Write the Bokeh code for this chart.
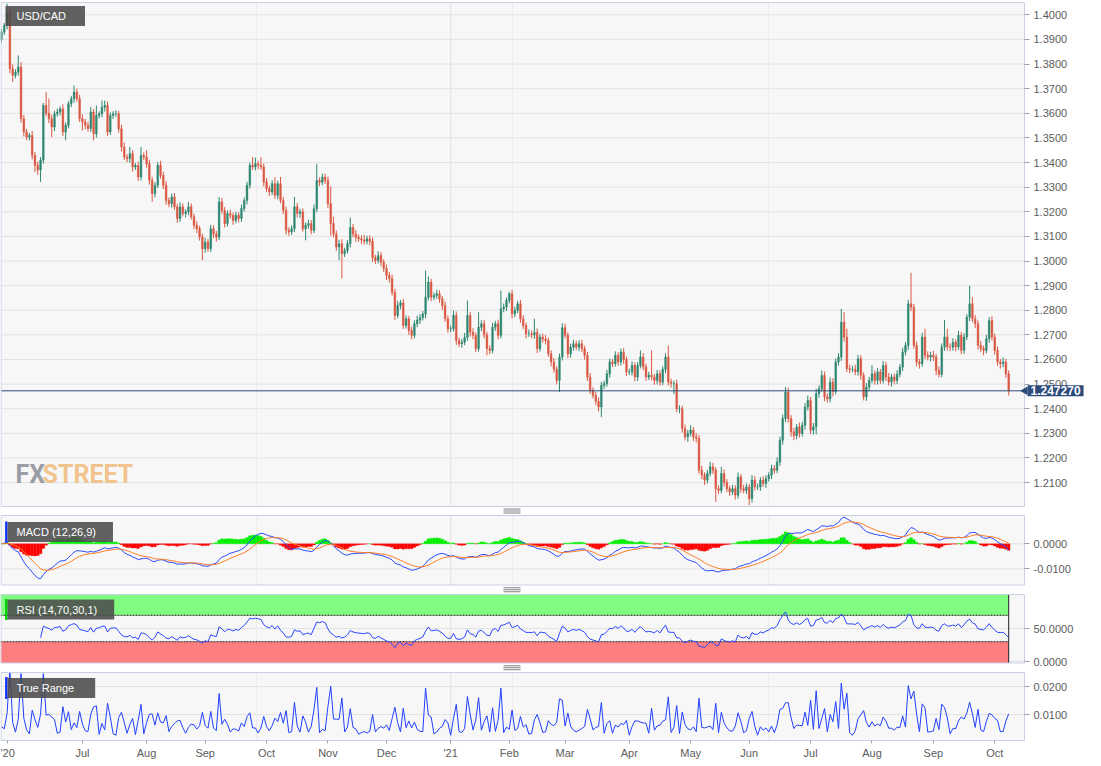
import numpy as np
import pandas as pd
from bokeh.plotting import figure
from bokeh.models import Range1d, FixedTicker, PrintfTickFormatter, Label, LinearAxis, ColumnDataSource
from bokeh.embed import file_html
from bokeh.resources import INLINE

# ---------------- data ----------------
symbol = "USD/CAD"
start_date = "2020-05-21"          # first daily candle (business days)
first_open_pips = 13900            # price * 10000

closes_pips = [
    13930, 13957, 14010, 13781, 13754, 13767, 13788, 13578, 13524, 13503, 13510, 13429, 13388, 13370, 13410, 13632, 13600, 13578, 13544, 13598,
    13605, 13618, 13524, 13551, 13639, 13659, 13686, 13659, 13578, 13565, 13551, 13538, 13605, 13517, 13591, 13598, 13625, 13632, 13524, 13591,
    13598, 13598, 13537, 13463, 13422, 13415, 13436, 13382, 13388, 13341, 13429, 13422, 13395, 13328, 13274, 13308, 13389, 13348, 13308, 13246,
    13233, 13260, 13220, 13173, 13220, 13193, 13200, 13220, 13180, 13145, 13131, 13097, 13050, 13077, 13050, 13131, 13110, 13097, 13240, 13205,
    13152, 13193, 13186, 13165, 13186, 13173, 13213, 13246, 13308, 13389, 13382, 13395, 13389, 13382, 13321, 13294, 13280, 13314, 13267, 13314,
    13246, 13205, 13125, 13118, 13131, 13220, 13193, 13200, 13131, 13145, 13152, 13125, 13212, 13327, 13320, 13341, 13327, 13233, 13152, 13110,
    13057, 13070, 13030, 13042, 13071, 13136, 13110, 13096, 13090, 13085, 13080, 13090, 13080, 13014, 13002, 13022, 12995, 12970, 12941, 12928,
    12873, 12779, 12820, 12830, 12738, 12765, 12718, 12698, 12745, 12760, 12770, 12785, 12853, 12914, 12853, 12860, 12867, 12846, 12819, 12765,
    12725, 12725, 12779, 12677, 12664, 12670, 12690, 12779, 12711, 12698, 12644, 12731, 12745, 12700, 12644, 12637, 12731, 12745, 12698, 12806,
    12813, 12840, 12867, 12785, 12800, 12826, 12765, 12738, 12704, 12704, 12700, 12710, 12644, 12691, 12683, 12677, 12623, 12590, 12560, 12515,
    12610, 12729, 12698, 12623, 12650, 12664, 12650, 12664, 12644, 12617, 12529, 12475, 12454, 12430, 12407, 12495, 12502, 12542, 12590, 12583,
    12617, 12590, 12630, 12600, 12549, 12549, 12576, 12529, 12576, 12610, 12570, 12529, 12536, 12529, 12515, 12542, 12508, 12560, 12610, 12508,
    12502, 12502, 12400, 12400, 12319, 12285, 12300, 12313, 12285, 12280, 12150, 12130, 12110, 12137, 12164, 12150, 12075, 12068, 12137, 12100,
    12075, 12062, 12075, 12049, 12123, 12075, 12068, 12082, 12035, 12110, 12082, 12082, 12110, 12096, 12116, 12130, 12157, 12150, 12184, 12272,
    12360, 12468, 12360, 12306, 12290, 12326, 12299, 12333, 12407, 12434, 12313, 12326, 12461, 12481, 12535, 12448, 12440, 12508, 12470, 12590,
    12610, 12752, 12691, 12563, 12560, 12560, 12550, 12603, 12536, 12448, 12488, 12515, 12542, 12515, 12549, 12515, 12576, 12529, 12508, 12529,
    12515, 12540, 12569, 12630, 12657, 12826, 12812, 12657, 12590, 12583, 12691, 12617, 12610, 12617, 12610, 12556, 12540, 12651, 12691, 12651,
    12650, 12670, 12651, 12698, 12637, 12691, 12772, 12826, 12765, 12745, 12657, 12644, 12637, 12684, 12758, 12691, 12637, 12590, 12583, 12590,
    12542, 12472.7,
]

upper_wick_pips = [
    12, 10, 35, 15, 18, 12, 47, 20, 15, 12, 10, 18, 14, 16, 12, 10, 54, 60, 16, 12,
    14, 10, 18, 12, 10, 12, 27, 14, 16, 18, 12, 14, 20, 12, 41, 10, 27, 20, 16, 12,
    10, 14, 12, 16, 18, 12, 27, 14, 10, 16, 34, 12, 28, 16, 14, 12, 13, 18, 14, 16,
    12, 14, 16, 12, 18, 14, 10, 20, 14, 12, 16, 12, 14, 18, 12, 16, 14, 12, 20, 16,
    14, 12, 16, 10, 14, 12, 16, 12, 14, 11, 33, 25, 12, 33, 14, 16, 12, 14, 26, 12,
    27, 14, 16, 12, 14, 40, 16, 12, 14, 12, 16, 14, 18, 68, 12, 14, 14, 16, 70, 28,
    14, 16, 18, 12, 14, 40, 14, 16, 12, 14, 20, 12, 14, 16, 12, 18, 14, 12, 16, 14,
    16, 14, 18, 12, 16, 14, 12, 16, 14, 18, 14, 12, 108, 23, 14, 12, 16, 14, 12, 16,
    14, 12, 20, 16, 12, 14, 18, 61, 14, 16, 12, 61, 14, 16, 12, 14, 18, 12, 16, 74,
    14, 12, 8, 16, 14, 12, 16, 14, 12, 18, 14, 55, 16, 12, 14, 16, 12, 14, 16, 12,
    14, 18, 16, 12, 14, 16, 12, 14, 16, 12, 14, 16, 12, 14, 16, 14, 12, 16, 14, 12,
    16, 12, 14, 16, 12, 14, 16, 12, 14, 27, 16, 12, 14, 101, 12, 16, 14, 12, 15, 47,
    14, 12, 16, 14, 12, 16, 14, 20, 12, 16, 14, 18, 12, 14, 20, 16, 12, 14, 27, 16,
    14, 12, 16, 14, 18, 12, 16, 14, 12, 20, 16, 14, 12, 16, 14, 12, 16, 14, 18, 14,
    16, 20, 18, 14, 16, 12, 18, 14, 16, 20, 14, 16, 20, 14, 20, 16, 14, 18, 16, 14,
    16, 54, 40, 34, 16, 14, 18, 16, 14, 12, 16, 14, 35, 14, 16, 12, 18, 14, 16, 12,
    14, 16, 12, 18, 14, 16, 126, 14, 16, 12, 18, 34, 16, 14, 18, 12, 16, 14, 69, 34,
    14, 16, 12, 18, 14, 16, 12, 74, 27, 16, 14, 18, 12, 16, 14, 18, 14, 16, 12, 18,
    13, 14,
]

lower_wick_pips = [
    14, 12, 16, 18, 27, 12, 14, 16, 18, 12, 14, 16, 27, 20, 49, 14, 12, 18, 41, 16,
    12, 14, 16, 34, 12, 14, 16, 12, 14, 35, 16, 12, 14, 27, 16, 12, 14, 18, 16, 12,
    14, 12, 16, 18, 12, 14, 16, 18, 12, 16, 14, 12, 16, 18, 34, 16, 12, 14, 16, 18,
    14, 16, 12, 18, 14, 12, 16, 14, 12, 16, 18, 14, 47, 16, 12, 14, 16, 18, 12, 14,
    16, 12, 14, 18, 12, 16, 14, 12, 16, 14, 12, 14, 16, 12, 18, 14, 16, 12, 14, 16,
    12, 14, 18, 16, 12, 14, 16, 18, 12, 47, 14, 16, 12, 14, 16, 12, 14, 18, 50, 14,
    16, 54, 101, 14, 12, 16, 14, 18, 12, 16, 14, 12, 16, 18, 14, 12, 16, 14, 18, 16,
    14, 18, 12, 16, 14, 12, 18, 16, 12, 14, 16, 12, 18, 14, 16, 12, 14, 16, 18, 12,
    16, 14, 12, 18, 14, 16, 12, 14, 18, 16, 14, 12, 16, 14, 27, 16, 12, 14, 16, 12,
    14, 16, 12, 18, 14, 12, 16, 14, 18, 12, 14, 16, 18, 12, 14, 16, 12, 18, 14, 16,
    47, 14, 12, 18, 16, 14, 12, 16, 14, 18, 16, 14, 12, 16, 18, 41, 14, 12, 16, 14,
    12, 16, 14, 18, 16, 12, 14, 18, 16, 12, 14, 16, 12, 14, 18, 16, 14, 12, 16, 14,
    16, 42, 14, 18, 16, 14, 20, 12, 16, 18, 14, 16, 20, 14, 12, 16, 53, 14, 12, 16,
    14, 16, 12, 18, 14, 16, 12, 14, 27, 16, 14, 12, 16, 14, 18, 12, 16, 14, 12, 16,
    18, 14, 16, 20, 18, 14, 16, 12, 18, 14, 16, 18, 30, 16, 12, 18, 16, 14, 20, 12,
    14, 16, 18, 14, 16, 12, 14, 16, 18, 14, 16, 14, 12, 18, 16, 14, 12, 16, 14, 18,
    16, 14, 12, 16, 14, 18, 16, 14, 18, 20, 12, 16, 14, 18, 16, 20, 14, 12, 16, 14,
    16, 14, 18, 12, 16, 14, 12, 16, 14, 18, 16, 14, 20, 12, 16, 14, 18, 16, 20, 14,
    16, 19,
]

tick_dates = ["2020-05-25", "2020-07-01", "2020-08-03", "2020-09-01", "2020-10-01", "2020-11-02",
              "2020-12-01", "2021-01-01", "2021-02-01", "2021-03-01", "2021-04-01", "2021-05-03",
              "2021-06-01", "2021-07-01", "2021-08-02", "2021-09-01", "2021-10-01"]
tick_labels = ["'20", "Jul", "Aug", "Sep", "Oct", "Nov", "Dec", "'21", "Feb", "Mar", "Apr", "May",
               "Jun", "Jul", "Aug", "Sep", "Oct"]
price_ticks = [1.21, 1.22, 1.23, 1.24, 1.25, 1.26, 1.27, 1.28, 1.29, 1.30,
               1.31, 1.32, 1.33, 1.34, 1.35, 1.36, 1.37, 1.38, 1.39, 1.40]
macd_ticks = [-0.01, 0.0]
rsi_ticks = [0, 50]
tr_ticks = [0.01, 0.02]
rsi_upper, rsi_lower = 70, 30

# ---------------- derived series ----------------
n = len(closes_pips)
dates = pd.bdate_range(start_date, periods=n)
idx = np.arange(n)
close = np.array(closes_pips, dtype=float) / 1e4
open_ = np.concatenate([[first_open_pips / 1e4], close[:-1]])
high = np.maximum(open_, close) + np.array(upper_wick_pips) / 1e4
low = np.minimum(open_, close) - np.array(lower_wick_pips) / 1e4

GREEN, RED = "#2e8770", "#da5843"
ccol = np.where(close >= open_, GREEN, RED)

cs = pd.Series(close)
macd = cs.ewm(span=12, adjust=False).mean() - cs.ewm(span=26, adjust=False).mean()
signal = macd.ewm(span=9, adjust=False).mean()
hist = macd - signal
hcol = np.where(hist >= 0, "#00f000", "#ff0000")

delta = cs.diff()
ag = delta.clip(lower=0).ewm(alpha=1 / 14, adjust=False, min_periods=14).mean()
al = (-delta.clip(upper=0)).ewm(alpha=1 / 14, adjust=False, min_periods=14).mean()
rsi = 100 - 100 / (1 + ag / al)

prev_c = np.concatenate([[open_[0]], close[:-1]])
tr = np.maximum(high, prev_c) - np.minimum(low, prev_c)

tick_idx = [int(dates.get_loc(pd.Timestamp(d))) for d in tick_dates]
year_idx = tick_idx[tick_labels.index("'21")]

# ---------------- layout (pixel geometry of the page) ----------------
W, H = 1095, 760
PX_PER_BAR, FIRST_PX = 2.79, 1.0
PANEL_R = 1024.0
X0 = (0 - FIRST_PX) / PX_PER_BAR
XR = (W - FIRST_PX) / PX_PER_BAR
X_PANEL_R = (PANEL_R - FIRST_PX) / PX_PER_BAR

# (reference value, its pixel row, pixels per unit)
MAIN_S = (1.40, 14.3, 2462.0)
MACD_S = (0.0, 543.3, 2500.0)
RSI_S = (0.0, 661.0, 0.66)
TR_S = (0.0, 742.0, 2800.0)
PANELS = {"main": (2.0, 506.0), "macd": (515.0, 584.5), "rsi": (594.0, 662.5), "tr": (672.0, 740.0)}


def vrange(s):
    v, py, k = s
    return Range1d(v - (H - py) / k, v + py / k)


def val(s, px):
    v, py, k = s
    return v + (py - px) / k


BG = "#f7f7f7"
OUTLINE = "#c8d0e4"
GRID = "#e3e3e3"
TXT = "#5c5c5c"
NAVY = "#2c4b7b"

p = figure(width=W, height=H, x_range=Range1d(X0, XR), y_range=vrange(MAIN_S),
           output_backend="svg", toolbar_location=None, tools="",
           x_axis_location=None, y_axis_location=None,
           min_border=0, min_border_left=0, min_border_right=0, min_border_top=0, min_border_bottom=0,
           background_fill_color="white", border_fill_color="white", outline_line_color=None)
p.extra_y_ranges = {"macd": vrange(MACD_S), "rsi": vrange(RSI_S), "tr": vrange(TR_S),
                    "px": Range1d(H, 0)}
p.extra_x_ranges = {"px": Range1d(0, W)}
p.xgrid.visible = False
p.ygrid.visible = False

tops = [v[0] for v in PANELS.values()]
bots = [v[1] for v in PANELS.values()]
p.quad(left=[0.5] * 4, right=[PANEL_R] * 4, top=tops, bottom=bots, fill_color=BG,
       line_color=None, x_range_name="px", y_range_name="px", level="image")

# horizontal grid lines at the axis ticks
for name, s, ticks in (("default", MAIN_S, price_ticks), ("macd", MACD_S, macd_ticks),
                       ("rsi", RSI_S, rsi_ticks), ("tr", TR_S, tr_ticks)):
    p.segment(x0=[0.5] * len(ticks), x1=[PANEL_R] * len(ticks), y0=ticks, y1=ticks,
              line_color=GRID, line_width=1, x_range_name="px", y_range_name=name,
              level="underlay")
# vertical grid lines: quarter lines and the year boundary
year_px = FIRST_PX + PX_PER_BAR * year_idx
for xv, col in ((PANEL_R / 4, "#ececec"), (PANEL_R / 2, "#ececec"), (3 * PANEL_R / 4, "#ececec"),
                (year_px, "#e0e0e0")):
    p.segment(x0=[xv] * 4, x1=[xv] * 4, y0=tops, y1=bots, line_color=col, line_width=1,
              x_range_name="px", y_range_name="px", level="underlay")

# ---------------- candles ----------------
src = ColumnDataSource(dict(x=idx, high=high, low=low,
                            top=np.maximum(open_, close), bottom=np.minimum(open_, close),
                            color=ccol))
p.segment(x0="x", y0="low", x1="x", y1="high", line_color="color", line_width=1, source=src)
p.vbar(x="x", width=0.6, top="top", bottom="bottom", fill_color="color",
       line_color="color", line_width=0.5, source=src)
last = close[-1]
p.segment(x0=[0.5], x1=[PANEL_R], y0=[last], y1=[last], line_color=NAVY, line_width=1,
          x_range_name="px")

# ---------------- MACD ----------------
p.vbar(x=idx, top=hist.values, bottom=0, width=1.0, fill_color=hcol, line_color=hcol,
       line_width=0.3, y_range_name="macd")
p.line(idx, macd.values, line_color="#2b48ff", line_width=1, y_range_name="macd")
p.line(idx, signal.values, line_color="#ff7b25", line_width=1, y_range_name="macd")

# ---------------- RSI ----------------
r_top = val(RSI_S, PANELS["rsi"][0])
r_bot = val(RSI_S, PANELS["rsi"][1])
p.quad(left=X0, right=idx[-1], bottom=rsi_upper, top=r_top, fill_color="#80fc80",
       line_color=None, y_range_name="rsi")
p.quad(left=X0, right=idx[-1], bottom=r_bot, top=rsi_lower, fill_color="#fd7e7e",
       line_color=None, y_range_name="rsi")
p.segment(x0=[X0, X0], y0=[rsi_upper, rsi_lower], x1=[idx[-1], idx[-1]],
          y1=[rsi_upper, rsi_lower], line_color="#222222", line_width=1, line_dash="2 1",
          y_range_name="rsi")
p.segment(x0=[idx[-1]], y0=[r_bot], x1=[idx[-1]], y1=[r_top], line_color="#222222",
          line_width=1, y_range_name="rsi")
p.line(idx, rsi.values, line_color="#2a44ff", line_width=1, y_range_name="rsi")

# ---------------- True Range ----------------
p.line(idx, tr, line_color="#2140ff", line_width=1, y_range_name="tr")

# white gaps between panels (clip anything that overshoots) and panel borders
gap_top = [bots[0] + 0.5, bots[1] + 0.5, bots[2] + 0.5]
gap_bot = [tops[1] - 0.5, tops[2] - 0.5, tops[3] - 0.5]
p.quad(left=[0] * 3, right=[W] * 3, top=gap_top, bottom=gap_bot, fill_color="white",
       line_color=None, x_range_name="px", y_range_name="px")
p.quad(left=[0.5] * 4, right=[PANEL_R] * 4, top=tops, bottom=bots, fill_color=None,
       line_color=OUTLINE, line_width=1, x_range_name="px", y_range_name="px")

# drag handles between panels
for yc in ((bots[0] + tops[1]) / 2, (bots[1] + tops[2]) / 2, (bots[2] + tops[3]) / 2):
    p.segment(x0=[503] * 3, x1=[520] * 3, y0=[yc - 2, yc, yc + 2], y1=[yc - 2, yc, yc + 2],
              line_color="#808080", line_width=1, x_range_name="px", y_range_name="px")

# ---------------- axes ----------------
def style_axis(ax, out=5):
    ax.axis_line_color = None
    ax.major_tick_line_color = "#9aa0ad"
    ax.major_tick_out = out
    ax.major_tick_in = 0
    ax.minor_tick_line_color = None
    ax.major_label_text_font = "Liberation Sans"
    ax.major_label_text_font_size = "11px"
    ax.major_label_text_color = TXT
    ax.major_label_standoff = 4


for name, ticks in (("default", price_ticks), ("macd", macd_ticks), ("rsi", rsi_ticks),
                    ("tr", tr_ticks)):
    ax = LinearAxis(y_range_name=name, fixed_location=X_PANEL_R,
                    ticker=FixedTicker(ticks=ticks), formatter=PrintfTickFormatter(format="%.4f"))
    style_axis(ax)
    p.add_layout(ax, "right")

xa = LinearAxis(y_range_name="tr", fixed_location=val(TR_S, PANELS["tr"][1]),
                ticker=FixedTicker(ticks=tick_idx),
                major_label_overrides={i: lab for i, lab in zip(tick_idx, tick_labels)})
style_axis(xa, out=3)
xa.major_label_standoff = 3
p.add_layout(xa, "below")

# ---------------- labels ----------------
def panel_label(text, top_px, box_h, right_pad, bar_color=None):
    yc = top_px + box_h / 2
    left = 5.0
    if bar_color:
        p.quad(left=[4.6], right=[7.0], top=[top_px], bottom=[top_px + box_h],
               fill_color=bar_color, line_color=None, x_range_name="px", y_range_name="px")
        left = 7.0
    p.add_layout(Label(x=left, y=yc, x_range_name="px", y_range_name="px", text=text,
                       text_color="white", text_font="Liberation Sans", text_font_size="11px",
                       text_align="left", text_baseline="middle",
                       background_fill_color="#4b4b4b", background_fill_alpha=0.88,
                       padding=dict(left=int(round(16 - left)), right=right_pad, top=4, bottom=4)))


panel_label(symbol, 5, 21, 19)
panel_label("MACD (12,26,9)", 521, 21, 17, bar_color="#1133ff")
panel_label("RSI (14,70,30,1)", 598.5, 21, 17, bar_color="#00cc00")
panel_label("True Range", 676.5, 22, 21, bar_color="#1133ff")

p.add_layout(Label(x=15, y=473.5, x_range_name="px", y_range_name="px", text="FX",
                   text_font="Roboto", text_font_style="bold", text_font_size="25px",
                   text_color="#9a9da4", text_align="left", text_baseline="middle"))
p.add_layout(Label(x=42, y=473.5, x_range_name="px", y_range_name="px", text="STREET",
                   text_font="Roboto", text_font_style="bold", text_font_size="25px",
                   text_color="#f2c48d", text_align="left", text_baseline="middle"))

# current price marker on the right
p.scatter(x=[1024.5], y=[last], marker="triangle", size=7, angle=np.pi / 2,
          fill_color=NAVY, line_color=NAVY, x_range_name="px")
p.add_layout(Label(x=1027, y=last, x_range_name="px", text=f"{last:.6f}", text_color="white",
                   text_font="Liberation Sans", text_font_size="12px", text_font_style="bold",
                   text_align="left", text_baseline="middle", background_fill_color=NAVY,
                   padding=dict(left=3, right=3, top=1, bottom=1)))

open("out.html", "w").write(file_html(p, INLINE, title="USD/CAD"))
